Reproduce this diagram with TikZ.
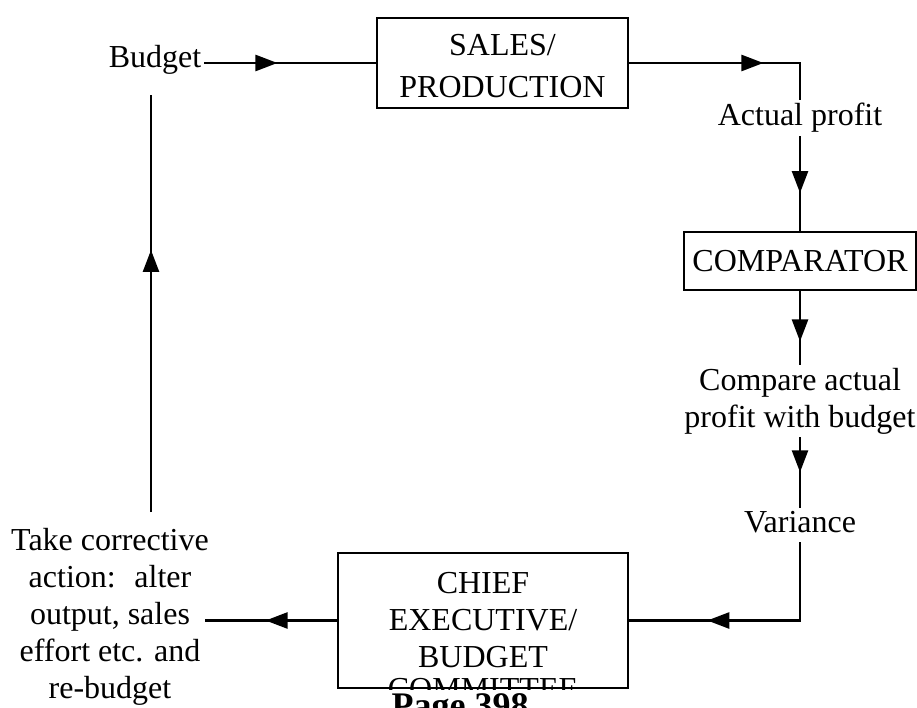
\documentclass[tikz,border=0pt]{standalone}
\usepackage{fontspec}
\setmainfont{Liberation Serif}
\usetikzlibrary{arrows.meta,decorations.markings,positioning}

\begin{document}
\begin{tikzpicture}
		[x=1pt, y=-1pt,
		font=\fontsize{32pt}{37pt}\selectfont,
		box/.style={draw, line width=2.8pt, align=center, inner sep=3pt},
		lbl/.style={align=center, inner sep=3pt},
		flow/.style={line width=2.6pt},
		tipat/.style={postaction={decorate},
			decoration={markings,
				mark=at position #1 with {\arrow{Triangle[length=22pt,width=16pt]}}}},
		]
		\clip (0,0) rectangle (917,708);
		
		% boxes
		\node[box, minimum width=251pt, minimum height=90pt] (sales) at (502.5,63) {\rule{0pt}{28pt}SALES/\\[5pt]PRODUCTION};
		\node[box, minimum width=232pt, minimum height=58pt] (comp) at (800,261) {COMPARATOR};
		\node[box, minimum width=290pt, minimum height=135pt] (chief) at (483,620.5) {CHIEF\\EXECUTIVE/\\BUDGET};
		\begin{scope}
			\clip (chief.south west) rectangle (chief.north east);
			\node[lbl, anchor=base] (committee) at (483,699) {COMMITTEE};
		\end{scope}
		
		% labels
		\node[lbl, anchor=base] (budget) at (155,68) {Budget};
		\node[lbl, anchor=base] (actual) at (800,126) {Actual profit};
		\node[lbl] (compare) at (800,401) {Compare actual\\profit with budget};
		\node[lbl, anchor=base, text depth=7pt] (variance) at (800,532) {Variance};
		\node[lbl] (action) at (110,616.5) {Take corrective\\action:~ alter\\output, sales\\effort etc. and\\re-budget};
		\node[lbl, anchor=base, font=\fontsize{36pt}{40pt}\selectfont\bfseries] (page) at (460,717) {Page 398};
		
		\coordinate (actin) at (205,620.5);
		\coordinate (fb0) at (151,512);
		\coordinate (fb1) at (151,95);
		
		% loop
		\draw[flow, tipat=73pt] (budget.east |- sales.west) -- (sales.west);
		\draw[flow, tipat=134pt] (sales.east) -- (sales.east -| actual.north) -- (actual.north);
		\draw[flow, tipat=57pt] (actual.south) -- (comp.north);
		\draw[flow, tipat=50pt] (comp.south) -- (compare.north);
		\draw[flow, tipat=35pt] (compare.south) -- (variance.north);
		\draw[flow, tipat=171pt] (variance.south) -- (variance.south |- chief.east) -- (chief.east);
		\draw[flow, tipat=71pt] (chief.west) -- (actin);
		\draw[flow, tipat=262pt] (fb0) -- (fb1);
		
	\end{tikzpicture}
\end{document}
